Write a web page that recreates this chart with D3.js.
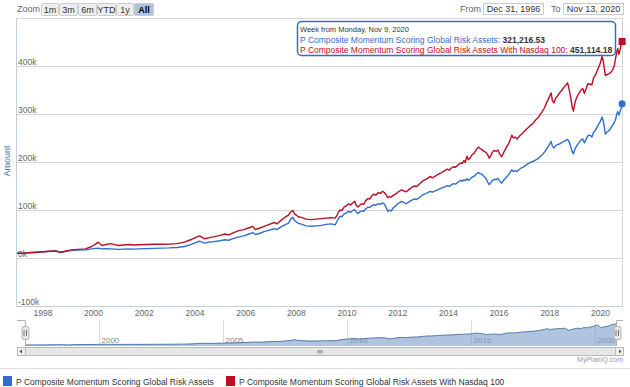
<!DOCTYPE html>
<html><head><meta charset="utf-8">
<script src="https://cdn.jsdelivr.net/npm/d3@7"></script>
<style>
body{margin:0;background:#fff;}
svg{display:block;font-family:"Liberation Sans",Arial,sans-serif;}
</style></head>
<body><svg id="c" width="630" height="387"></svg>
<script>
// ---- data (thousands of $), dates as decimal years ----
const dates = [1997.00,1997.30,1997.60,1997.90,1998.30,1998.55,1998.70,1998.85,1999.10,1999.40,1999.70,1999.95,
2000.10,2000.20,2000.35,2000.50,2000.70,2000.85,2001.00,2001.20,2001.40,2001.60,2001.80,2002.10,2002.40,2002.70,
2003.00,2003.30,2003.60,2003.85,2004.05,2004.20,2004.30,2004.40,2004.55,2004.75,2005.00,2005.20,2005.35,2005.55,
2005.75,2005.95,2006.15,2006.30,2006.40,2006.55,2006.75,2006.95,2007.15,2007.25,2007.45,2007.60,2007.70,2007.80,
2007.88,2007.95,2008.10,2008.25,2008.40,2008.60,2008.80,2009.00,2009.20,2009.40,
2009.55,2009.62,2009.68,2009.75,2009.82,2009.90,2010.00,2010.08,2010.15,2010.25,
2010.32,2010.38,2010.45,2010.52,2010.60,2010.68,2010.75,2010.85,2010.92,2011.00,
2011.08,2011.15,2011.25,2011.35,2011.42,2011.50,2011.57,2011.63,2011.70,2011.77,
2011.85,2011.93,2012.00,2012.08,2012.17,2012.25,2012.35,2012.43,2012.52,2012.60,
2012.68,2012.77,2012.85,2012.93,2013.02,2013.12,2013.20,2013.30,2013.38,2013.45,
2013.55,2013.63,2013.72,2013.80,2013.88,2013.97,2014.05,2014.12,2014.22,2014.30,
2014.40,2014.50,2014.57,2014.63,2014.68,2014.75,2014.80,2014.87,2014.95,2015.03,
2015.12,2015.20,2015.27,2015.35,2015.42,2015.50,2015.57,2015.63,2015.68,2015.75,
2015.82,2015.90,2015.97,2016.05,2016.12,2016.20,2016.28,2016.37,2016.45,2016.52,
2016.58,2016.65,2016.73,2016.82,2016.90,2016.98,2017.07,2017.15,2017.25,2017.35,
2017.45,2017.55,2017.63,2017.72,2017.80,2017.88,2017.95,2018.02,2018.07,2018.12,
2018.18,2018.25,2018.33,2018.42,2018.50,2018.58,2018.65,2018.72,2018.78,2018.84,
2018.90,2018.95,2019.02,2019.10,2019.18,2019.25,2019.32,2019.38,2019.45,2019.52,
2019.60,2019.68,2019.75,2019.82,2019.88,2019.95,2020.02,2020.08,2020.13,2020.17,
2020.21,2020.27,2020.35,2020.42,2020.50,2020.56,2020.62,2020.66,2020.70,2020.74,
2020.78,2020.82,2020.87];
const globalRisk = [10,10.5,11.5,12.5,14,14.5,11.5,13,15.5,16.5,17,19,
20,20.5,19,19.5,19,18.5,18,18.5,19,18.5,19,19.5,20,20.5,
21,22,24,28,32,35,33,31,33,34,36,38,37,41,
44,46,50,53,49,51,55,58,61,59,66,70,72,81,
85,78,72,70,67,66,67,68,70,71,
69,76,82,87,86,92,94,97,95,99,
101,96,93,96,98,97,102,106,105,109,
111,110,113,112,115,112,104,97,100,98,
105,108,112,115,118,116,113,116,119,121,
123,122,125,128,132,134,136,139,137,139,
141,143,145,147,148,151,149,152,155,154,
158,162,160,163,161,165,162,164,168,170,
175,178,176,174,170,166,158,153,156,161,
164,163,166,160,156,162,167,172,178,184,
180,182,180,185,188,190,193,196,199,201,
204,207,211,215,220,226,232,238,243,233,
229,234,236,238,241,243,245,247,242,233,
222,217,228,235,241,246,248,240,247,255,
256,252,262,266,272,279,285,294,285,272,
258,262,265,270,277,282,290,300,305,298,
303,310,321.21653];
const globalRiskNasdaq = [10,10.5,11.5,12.5,14,14.5,12,13.5,16.5,18,19,24,
29,33,26,28,30,28,26,27,28,27,27.5,28,28.5,28.5,
29,30,33,38,43,46,43,40,42,44,47,50,48,53,
57,59,63,66,59,62,66,70,74,71,80,86,89,96,
99,92,86,84,81,80,81,82,83,84,
83,89,96,100,99,106,109,113,110,115,
118,110,106,110,113,112,119,124,123,130,
133,131,136,135,139,136,131,126,128,127,
131,133,136,139,142,140,138,141,145,148,
150,149,153,157,161,164,166,170,167,169,
172,175,177,180,182,185,183,187,190,189,
194,198,197,203,199,212,205,208,215,218,
226,231,228,226,222,220,215,208,212,220,
224,222,225,216,211,220,228,236,245,256,
250,252,248,254,258,262,267,271,276,280,
287,292,298,305,312,322,330,338,344,328,
323,333,338,345,350,356,360,365,352,335,
315,306,326,337,344,350,353,343,352,363,
362,361,376,381,389,398,407,420,410,395,
380,382,384,386,392,400,418,430,436,424,
432,442,451.11418];
const seriesNames = ["P Composite Momentum Scoring Global Risk Assets","P Composite Momentum Scoring Global Risk Assets With Nasdaq 100"];
const seriesColors = ["#2f6fcc","#bf0d22"];
const yTicks = [-100,0,100,200,300,400,500];
const xTickYears = [1998,2000,2002,2004,2006,2008,2010,2012,2014,2016,2018,2020];
const navTickYears = [2000,2005,2010,2015,2020];
const zoomButtons = ["1m","3m","6m","YTD","1y","All"];
const startDate = new Date(1996,11,31), endDate = new Date(2020,10,13);

const toDate = y => { const yi=Math.floor(y); const a=new Date(yi,0,1), b=new Date(yi+1,0,1); return new Date(+a+(y-yi)*(b-a)); };
const svg = d3.select("#c");
svg.append("rect").attr("width",630).attr("height",387).attr("fill","#fff");

// ---- range selector ----
svg.append("text").attr("x",17).attr("y",12).attr("font-size",9).attr("fill","#666").text("Zoom");
const bw=[18,19,19,19,18,20]; let bx=41;
zoomButtons.forEach((b,i)=>{
  const g=svg.append("g");
  g.append("rect").attr("x",bx+0.5).attr("y",3.5).attr("width",bw[i]-1).attr("height",12).attr("rx",1)
    .attr("fill", b==="All"?"#a9c3e3":"#eeeeee").attr("stroke","#ccc");
  g.append("text").attr("x",bx+bw[i]/2).attr("y",12.5).attr("text-anchor","middle").attr("font-size",9)
    .attr("fill", b==="All"?"#000":"#333").attr("font-weight", b==="All"?"bold":"normal").text(b);
  bx+=bw[i];
});
svg.append("text").attr("x",460).attr("y",12).attr("font-size",9).attr("fill","#666").text("From");
svg.append("rect").attr("x",483.5).attr("y",3.5).attr("width",60).attr("height",11).attr("fill","#fff").attr("stroke","#ccc");
svg.append("text").attr("x",513.5).attr("y",12.3).attr("text-anchor","middle").attr("font-size",9).attr("fill","#333").text("Dec 31, 1996");
svg.append("text").attr("x",551).attr("y",12).attr("font-size",9).attr("fill","#666").text("To");
svg.append("rect").attr("x",563.5).attr("y",3.5).attr("width",60).attr("height",11).attr("fill","#fff").attr("stroke","#ccc");
svg.append("text").attr("x",593.5).attr("y",12.3).attr("text-anchor","middle").attr("font-size",9).attr("fill","#333").text("Nov 13, 2020");

// ---- main plot ----
const L=17, R=622, T=18, B=306;
const x = d3.scaleTime().domain([startDate,endDate]).range([L,R]);
const y = d3.scaleLinear().domain([-100,500]).range([B,T]);

const grid = svg.append("g");
yTicks.forEach(t=>{
  grid.append("line").attr("x1",L).attr("x2",R).attr("y1",Math.round(y(t))+0.5).attr("y2",Math.round(y(t))+0.5)
    .attr("stroke", "#d6d6d6").attr("stroke-width",1);
  if(t<500) grid.append("text").attr("x",L+1).attr("y",Math.round(y(t))-1.5).attr("font-size",8.5).attr("fill","#666").text(t+"k");
});
svg.append("line").attr("x1",R+0.5).attr("x2",R+0.5).attr("y1",T).attr("y2",B).attr("stroke","#d6d6d6");
svg.append("line").attr("x1",L-0.5).attr("x2",L-0.5).attr("y1",T).attr("y2",B+1).attr("stroke","#c0d0e0").attr("stroke-width",1);
svg.append("line").attr("x1",L-1).attr("x2",R+1).attr("y1",B+0.5).attr("y2",B+0.5).attr("stroke","#c0d0e0");

const xAxis = d3.axisBottom(x).tickValues(xTickYears.map(v=>new Date(v,0,1))).tickFormat(d3.timeFormat("%Y")).tickSize(0).tickPadding(4);
const xg = svg.append("g").attr("transform",`translate(0,${B})`).call(xAxis);
xg.select(".domain").remove();
xg.selectAll("text").attr("font-size",8.5).attr("fill","#666").attr("font-family","Liberation Sans, Arial, sans-serif");

svg.append("text").attr("transform","translate(10,161) rotate(-90)").attr("text-anchor","middle")
  .attr("font-size",9).attr("fill","#4d759e").text("Amount");

svg.append("clipPath").attr("id","pc").append("rect").attr("x",L).attr("y",T-10).attr("width",R-L+6).attr("height",B-T+10);
const n = Math.min(dates.length, globalRisk.length, globalRiskNasdaq.length);
const line = d3.line().x((d,i)=>x(toDate(dates[i]))).y(d=>y(d));
[globalRisk,globalRiskNasdaq].forEach((s,k)=>{
  svg.append("path").datum(s.slice(0,n)).attr("d",line).attr("fill","none").attr("stroke",seriesColors[k])
    .attr("stroke-width",1.4).attr("stroke-linejoin","round").attr("clip-path","url(#pc)");
});
const lx = x(toDate(dates[n-1]));
svg.append("circle").attr("cx",lx).attr("cy",y(globalRisk[n-1])).attr("r",3.5).attr("fill",seriesColors[0]);
svg.append("rect").attr("x",lx-3.5).attr("y",y(globalRiskNasdaq[n-1])-3.5).attr("width",7).attr("height",7).attr("fill",seriesColors[1]);

// ---- tooltip ----
const tt = svg.append("g");
tt.append("rect").attr("x",297.5).attr("y",21.5).attr("width",318).attr("height",34).attr("rx",4)
  .attr("fill","rgba(255,255,255,0.9)").attr("stroke","#2f6fcc").attr("stroke-width",1.5);
tt.append("text").attr("x",300).attr("y",32).attr("font-size",7.5).attr("fill","#333").text("Week from Monday, Nov 9, 2020");
const fmt = d3.format(",.2f");
const t1 = tt.append("text").attr("x",300).attr("y",42.5).attr("font-size",8.5);
t1.append("tspan").attr("fill",seriesColors[0]).text(seriesNames[0]+": ");
t1.append("tspan").attr("fill","#333").attr("font-weight","bold").text(fmt(globalRisk[n-1]*1000));
const t2 = tt.append("text").attr("x",300).attr("y",52.5).attr("font-size",8.5);
t2.append("tspan").attr("fill",seriesColors[1]).text(seriesNames[1]+": ");
t2.append("tspan").attr("fill","#333").attr("font-weight","bold").text(fmt(globalRiskNasdaq[n-1]*1000));

// ---- navigator ----
const NL=25, NR=617, NT=320, NB=346;
const nx = d3.scaleTime().domain([startDate,endDate]).range([NL,NR]);
const ny = d3.scaleLinear().domain([d3.min(globalRisk),d3.max(globalRisk)]).range([NB-1,NT+3]);
navTickYears.forEach(v=>{
  const px=Math.round(nx(new Date(v,0,1)))+0.5;
  svg.append("line").attr("x1",px).attr("x2",px).attr("y1",NT).attr("y2",NB).attr("stroke","#dcdcdc");
  svg.append("text").attr("x",px+2).attr("y",NB-3).attr("font-size",8).attr("fill","#888").text(v);
});
const area = d3.area().x((d,i)=>nx(toDate(dates[i]))).y0(NB).y1(d=>ny(d));
svg.append("path").datum(globalRisk.slice(0,n)).attr("d",area).attr("fill","#7d9cc7").attr("fill-opacity",0.6);
svg.append("path").datum(globalRisk.slice(0,n)).attr("d",d3.line().x((d,i)=>nx(toDate(dates[i]))).y(d=>ny(d)))
  .attr("fill","none").attr("stroke","#4f77ad").attr("stroke-width",1);
svg.append("path").attr("d",`M${L},${NT+0.5}H${NL+0.5}V${NB}M${NR-0.5},${NB}V${NT+0.5}H${R+1}`)
  .attr("fill","none").attr("stroke","#b2b1b6").attr("stroke-width",1);
[NL,NR].forEach(hx=>{
  svg.append("rect").attr("x",hx-3.5+0.5).attr("y",NT+6.5).attr("width",7).attr("height",13).attr("rx",2)
    .attr("fill","#ebe7e8").attr("stroke","#b2b1b6");
  svg.append("path").attr("d",`M${hx-1},${NT+10}V${NT+16}M${hx+1.5},${NT+10}V${NT+16}`).attr("stroke","#555").attr("stroke-width",0.8);
});
// scrollbar
const SY=347;
svg.append("rect").attr("x",L+0.5).attr("y",SY+0.5).attr("width",R-L+1).attr("height",8).attr("fill","#eeeeee").attr("stroke","#bbb");
svg.append("rect").attr("x",L+8.5).attr("y",SY+0.5).attr("width",R-L-15).attr("height",8).attr("fill","#e6e6e6").attr("stroke","#bbb");
svg.append("path").attr("d",`M${L+5},${SY+2.5}L${L+2.5},${SY+4.5}L${L+5},${SY+6.5}Z`).attr("fill","#555");
svg.append("path").attr("d",`M${R-3},${SY+2.5}L${R-0.5},${SY+4.5}L${R-3},${SY+6.5}Z`).attr("fill","#555");
const cx=(L+R)/2;
[-2,0,2].forEach(o=>svg.append("line").attr("x1",cx+o+0.5).attr("x2",cx+o+0.5).attr("y1",SY+3).attr("y2",SY+6.5).attr("stroke","#777"));
svg.append("text").attr("x",623).attr("y",362).attr("text-anchor","end").attr("font-size",7).attr("fill","#999").text("MyPlanIQ.com");

// ---- legend ----
svg.append("line").attr("x1",0).attr("x2",630).attr("y1",368.5).attr("y2",368.5).attr("stroke","#ddd");
const lgX=[3,226];
seriesNames.forEach((nm,i)=>{
  svg.append("rect").attr("x",lgX[i]).attr("y",376).attr("width",9).attr("height",10).attr("fill",seriesColors[i]);
  svg.append("text").attr("x",lgX[i]+13).attr("y",384.5).attr("font-size",8.5).attr("fill","#333").text(nm);
});
</script></body></html>
